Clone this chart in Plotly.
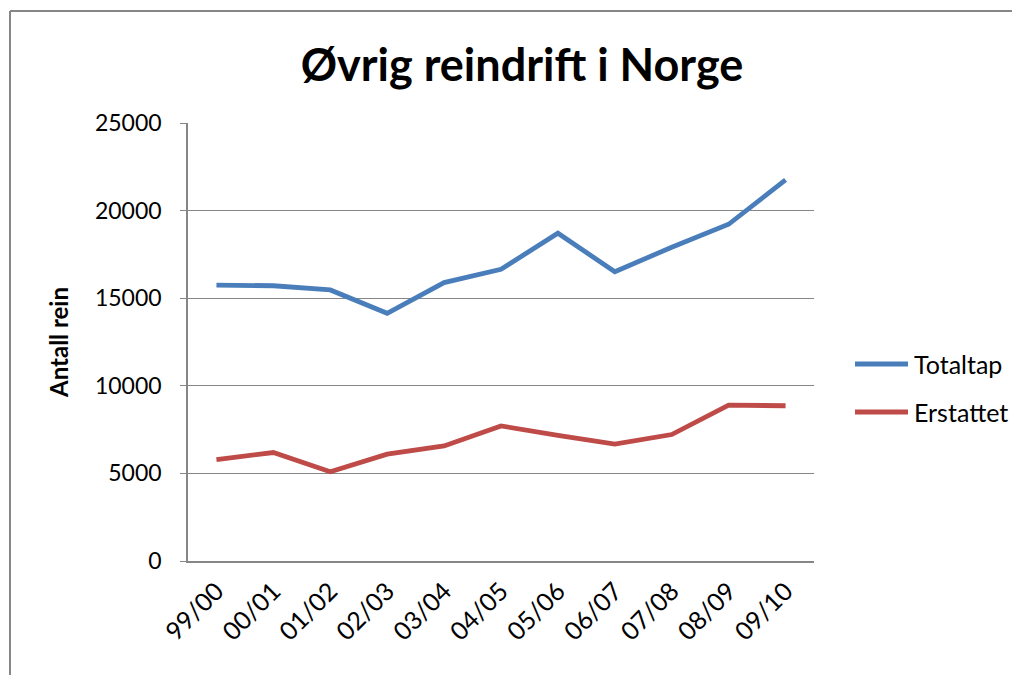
import plotly.graph_objects as go

categories = ["99/00", "00/01", "01/02", "02/03", "03/04", "04/05",
              "05/06", "06/07", "07/08", "08/09", "09/10"]
totaltap = [15750, 15710, 15470, 14140, 15890, 16650, 18710, 16510, 17910, 19220, 21750]
erstattet = [5790, 6190, 5090, 6100, 6570, 7710, 7170, 6670, 7220, 8900, 8860]
series_names = ["Totaltap", "Erstattet"]
series_colors = ["#4A7EBB", "#BE4B48"]

FONT = "Lato"
GRID = "#868686"
OFF = 8  # page body margin in the browser

fig = go.Figure()
for name, vals, col in zip(series_names, [totaltap, erstattet], series_colors):
    fig.add_trace(go.Scatter(x=categories, y=vals, mode="lines", name=name,
                             line=dict(color=col, width=4.8)))

# plot area geometry in screen pixels
L, R, T, B = 188, 814, 123, 561
W, H = 1020 - OFF, 675 - OFF
pw, ph = R - L, B - T

def px(x):
    return (x - L) / pw

def py(y):
    return (B - y) / ph

shapes = [
    dict(type="line", xref="paper", yref="paper",
         x0=px(10), x1=px(1030), y0=py(11), y1=py(11),
         line=dict(color=GRID, width=2)),
    dict(type="line", xref="paper", yref="paper",
         x0=px(10), x1=px(10), y0=py(11), y1=py(700),
         line=dict(color=GRID, width=2)),
]
annotations = []
legend_y = [364, 412]
for name, col, yy in zip(series_names, series_colors, legend_y):
    shapes.append(dict(type="line", xref="paper", yref="paper",
                       x0=px(855), x1=px(908), y0=py(yy), y1=py(yy),
                       line=dict(color=col, width=4.8)))
    annotations.append(dict(text=name, xref="paper", yref="paper",
                            x=px(912), y=py(yy), xanchor="left", yanchor="middle",
                            showarrow=False, font=dict(size=25, family=FONT, color="black")))

fig.update_layout(
    width=W, height=H,
    margin=dict(l=L - OFF, r=1020 - R, t=T - OFF, b=675 - B, autoexpand=False),
    paper_bgcolor="white", plot_bgcolor="white",
    font=dict(family=FONT, color="black", size=23),
    title=dict(text="<b>Øvrig reindrift i Norge</b>", x=(522 - OFF) / W, xanchor="center",
               y=1 - (65 - OFF) / H, yanchor="middle", yref="container",
               font=dict(size=45, family=FONT, color="black")),
    showlegend=False,
    xaxis=dict(type="category", range=[-0.5, len(categories) - 0.5],
               showgrid=False, showline=True, linecolor=GRID, linewidth=1.5,
               ticks="", tickangle=-45, tickfont=dict(size=25),
               ticklabelstandoff=4,
               zeroline=False, fixedrange=True),
    yaxis=dict(range=[0, 25000], dtick=5000, tickformat="d",
               showgrid=True, gridcolor=GRID, gridwidth=1.3,
               showline=True, linecolor=GRID, linewidth=1.5,
               ticks="outside", ticklen=6, tickcolor=GRID,
               ticklabelstandoff=14, tickfont=dict(size=23),
               zeroline=False,
               title=dict(text="<b>Antall rein</b>", font=dict(size=24), standoff=20)),
    shapes=shapes,
    annotations=annotations,
)

fig.write_html("out.html")
